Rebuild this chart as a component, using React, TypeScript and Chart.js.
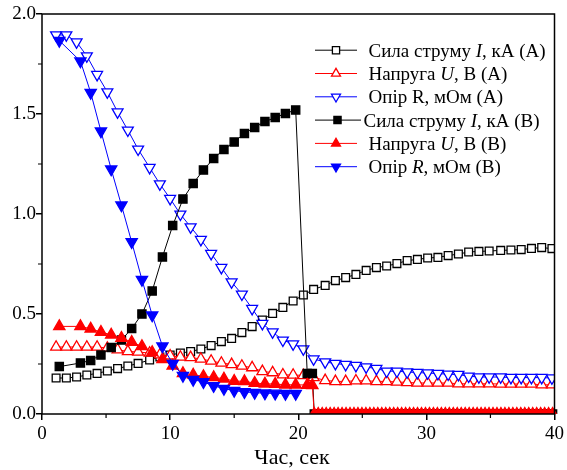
import React, { useEffect, useRef } from 'react';
import { Chart, registerables } from 'chart.js';

Chart.register(...registerables);

const FONT = '"Liberation Serif", "Times New Roman", serif';

// Sample A (open markers): time, current, voltage, resistance
const tA = [1.1, 1.9, 2.7, 3.5, 4.3, 5.1, 5.9, 6.7, 7.5, 8.4, 9.2, 10.0, 10.8, 11.6, 12.4, 13.2, 14.0, 14.8, 15.6, 16.4, 17.2, 18.0, 18.8, 19.6, 20.4, 21.2, 22.1, 22.9, 23.7, 24.5, 25.3, 26.1, 26.9, 27.7, 28.5, 29.3, 30.1, 30.9, 31.7, 32.5, 33.3, 34.1, 34.9, 35.8, 36.6, 37.4, 38.2, 39.0, 39.8];
const iA = [0.18, 0.18, 0.185, 0.195, 0.203, 0.215, 0.227, 0.24, 0.253, 0.27, 0.285, 0.295, 0.305, 0.312, 0.325, 0.342, 0.362, 0.378, 0.407, 0.437, 0.47, 0.503, 0.533, 0.565, 0.595, 0.623, 0.643, 0.667, 0.682, 0.698, 0.718, 0.732, 0.74, 0.752, 0.767, 0.773, 0.78, 0.783, 0.792, 0.8, 0.81, 0.813, 0.815, 0.818, 0.82, 0.822, 0.828, 0.832, 0.827];
const uA = [0.335, 0.335, 0.335, 0.335, 0.335, 0.33, 0.321, 0.313, 0.31, 0.305, 0.296, 0.291, 0.285, 0.283, 0.275, 0.265, 0.255, 0.248, 0.24, 0.232, 0.213, 0.207, 0.196, 0.195, 0.193, 0.183, 0.168, 0.163, 0.163, 0.166, 0.166, 0.163, 0.163, 0.16, 0.158, 0.155, 0.155, 0.155, 0.155, 0.151, 0.151, 0.151, 0.151, 0.15, 0.15, 0.15, 0.15, 0.146, 0.146];
const rA = [1.895, 1.895, 1.86, 1.79, 1.697, 1.61, 1.51, 1.419, 1.324, 1.232, 1.15, 1.077, 0.999, 0.935, 0.872, 0.802, 0.732, 0.66, 0.599, 0.527, 0.452, 0.41, 0.369, 0.35, 0.325, 0.275, 0.26, 0.252, 0.247, 0.242, 0.235, 0.227, 0.214, 0.214, 0.21, 0.207, 0.205, 0.202, 0.199, 0.197, 0.189, 0.185, 0.185, 0.185, 0.182, 0.182, 0.182, 0.182, 0.18];

// Sample B (filled markers)
const tB = [1.35, 3.0, 3.8, 4.6, 5.4, 6.2, 7.0, 7.8, 8.6, 9.4, 10.2, 11.0, 11.8, 12.6, 13.4, 14.2, 15.0, 15.8, 16.6, 17.4, 18.2, 19.0, 19.8, 20.7, 21.1];
const iB = [0.237, 0.255, 0.268, 0.295, 0.332, 0.37, 0.427, 0.5, 0.615, 0.785, 0.942, 1.075, 1.153, 1.22, 1.278, 1.323, 1.36, 1.403, 1.433, 1.462, 1.482, 1.503, 1.52, 0.203, 0.203];
const uB = [0.438, 0.438, 0.426, 0.41, 0.396, 0.38, 0.36, 0.338, 0.308, 0.273, 0.241, 0.203, 0.196, 0.188, 0.183, 0.176, 0.165, 0.163, 0.155, 0.151, 0.15, 0.146, 0.146, 0.145, 0.143];
const rB = [1.867, 1.764, 1.607, 1.414, 1.224, 1.044, 0.86, 0.672, 0.494, 0.339, 0.252, 0.192, 0.172, 0.16, 0.141, 0.127, 0.117, 0.11, 0.107, 0.104, 0.103, 0.102, 0.102];

// Sample B after breakdown (zero readings)
const tTail = [21.25, 21.56, 21.87, 22.18, 22.49, 22.8, 23.11, 23.42, 23.73, 24.04, 24.35, 24.66, 24.97, 25.28, 25.59, 25.9, 26.21, 26.52, 26.83, 27.14, 27.45, 27.76, 28.07, 28.38, 28.69, 29.0, 29.31, 29.62, 29.93, 30.24, 30.55, 30.86, 31.17, 31.48, 31.79, 32.1, 32.41, 32.72, 33.03, 33.34, 33.65, 33.96, 34.27, 34.58, 34.89, 35.2, 35.51, 35.82, 36.13, 36.44, 36.75, 37.06, 37.37, 37.68, 37.99, 38.3, 38.61, 38.92, 39.23, 39.54, 39.85];
const iTail = [0, 0, 0, 0, 0, 0, 0, 0, 0, 0, 0, 0, 0, 0, 0, 0, 0, 0, 0, 0, 0, 0, 0, 0, 0, 0, 0, 0, 0, 0, 0, 0, 0, 0, 0, 0, 0, 0, 0, 0, 0, 0, 0, 0, 0, 0, 0, 0, 0, 0, 0, 0, 0, 0, 0, 0, 0, 0, 0, 0, 0];
const uTail = [0, 0, 0, 0, 0, 0, 0, 0, 0, 0, 0, 0, 0, 0, 0, 0, 0, 0, 0, 0, 0, 0, 0, 0, 0, 0, 0, 0, 0, 0, 0, 0, 0, 0, 0, 0, 0, 0, 0, 0, 0, 0, 0, 0, 0, 0, 0, 0, 0, 0, 0, 0, 0, 0, 0, 0, 0, 0, 0, 0, 0];

const xMinorTicks = [5, 15, 25, 35];
const yMinorTicks = [0.25, 0.75, 1.25, 1.75];
const xTitle = 'Час, сек';

type Part = [string, boolean];
const legendLabels: Part[][] = [
  [['Сила струму ', false], ['I', true], [', кА (A)', false]],
  [['Напруга ', false], ['U', true], [', В (A)', false]],
  [['Опір R, мОм (A)', false]],
  [['Сила струму ', false], ['I', true], [', кА (B)', false]],
  [['Напруга ', false], ['U', true], [', В (B)', false]],
  [['Опір ', false], ['R', true], [', мОм (B)', false]],
];
const legendMarkers = [
  { color: '#000000', shape: 'square', filled: false },
  { color: '#ff0000', shape: 'up', filled: false },
  { color: '#0000ff', shape: 'down', filled: false },
  { color: '#000000', shape: 'square', filled: true },
  { color: '#ff0000', shape: 'up', filled: true },
  { color: '#0000ff', shape: 'down', filled: true },
];

const zip = (xs: number[], ys: number[]) => ys.map((y, i) => ({ x: xs[i], y }));

function drawMarker(ctx: CanvasRenderingContext2D, x: number, y: number, shape: string, color: string, filled: boolean) {
  ctx.save();
  ctx.beginPath();
  if (shape === 'square') {
    const h = 3.6;
    ctx.rect(x - h, y - h, 2 * h, 2 * h);
  } else {
    const r = 5.2;
    const s = shape === 'up' ? 1 : -1;
    ctx.moveTo(x, y - s * r);
    ctx.lineTo(x + r * 0.866, y + s * r * 0.5);
    ctx.lineTo(x - r * 0.866, y + s * r * 0.5);
    ctx.closePath();
  }
  ctx.fillStyle = filled ? color : '#ffffff';
  ctx.fill();
  ctx.lineWidth = 1.3;
  ctx.strokeStyle = color;
  ctx.stroke();
  ctx.restore();
}

const decorPlugin = {
  id: 'decor',
  afterDraw(chart: any) {
    const ctx: CanvasRenderingContext2D = chart.ctx;
    const { left, right, top, bottom } = chart.chartArea;
    const xs = chart.scales.x;
    const ys = chart.scales.y;
    ctx.save();
    // frame
    ctx.strokeStyle = '#000';
    ctx.lineWidth = 1.5;
    ctx.strokeRect(left, top, right - left, bottom - top);
    // minor ticks
    ctx.lineWidth = 1.2;
    ctx.beginPath();
    xMinorTicks.forEach((v) => {
      const px = xs.getPixelForValue(v);
      ctx.moveTo(px, bottom);
      ctx.lineTo(px, bottom + 4);
    });
    yMinorTicks.forEach((v) => {
      const py = ys.getPixelForValue(v);
      ctx.moveTo(left, py);
      ctx.lineTo(left - 4, py);
    });
    ctx.stroke();

    // axis title
    ctx.fillStyle = '#000';
    ctx.font = `22px ${FONT}`;
    ctx.textAlign = 'center';
    ctx.textBaseline = 'alphabetic';
    ctx.fillText(xTitle, 292, 464);

    // legend
    ctx.textAlign = 'left';
    legendLabels.forEach((parts, i) => {
      const base = 56.7 + 23.3 * i;
      const cy = base - 6.5;
      const m = legendMarkers[i];
      const lineEnd = i === 3 ? 361 : 357;
      ctx.beginPath();
      ctx.strokeStyle = m.color;
      ctx.lineWidth = 1;
      ctx.moveTo(315, cy);
      ctx.lineTo(lineEnd, cy);
      ctx.stroke();
      drawMarker(ctx, i === 3 ? 337.5 : 336, cy, m.shape, m.color, m.filled);
      let x = i === 3 ? 363.5 : 368.5;
      ctx.fillStyle = '#000';
      parts.forEach(([txt, it]) => {
        ctx.font = `${it ? 'italic ' : ''}19px ${FONT}`;
        ctx.fillText(txt, x, base);
        x += ctx.measureText(txt).width;
      });
    });
    ctx.restore();
  },
};

export default function App() {
  const ref = useRef<HTMLCanvasElement | null>(null);
  useEffect(() => {
    if (!ref.current) return;
    const common = { borderWidth: 1, tension: 0, pointBorderWidth: 1.3, pointHoverRadius: 0 };
    const chart = new Chart(ref.current, {
      type: 'line',
      data: {
        datasets: [
          { ...common, order: 0, data: zip(tA, iA), borderColor: '#000', pointStyle: 'rect', pointRadius: 5.5, pointBackgroundColor: '#fff', pointBorderColor: '#000' },
          { ...common, order: -1, data: zip(tA, uA), borderColor: '#ff0000', pointStyle: 'triangle', pointRadius: 6.3, pointBackgroundColor: '#fff', pointBorderColor: '#ff0000' },
          { ...common, order: -2, data: zip(tA, rA), borderColor: '#0000ff', pointStyle: 'triangle', pointRotation: 180, pointRadius: 6.3, pointBackgroundColor: '#fff', pointBorderColor: '#0000ff' },
          { ...common, order: -3, data: [...zip(tB, iB), ...zip(tTail, iTail)], borderColor: '#000', pointStyle: 'rect', pointRadius: 5.8, pointBackgroundColor: '#000', pointBorderColor: '#000', clip: { left: 20, right: 20, top: 20, bottom: 0 } },
          { ...common, order: -4, data: [...zip(tB, uB), ...zip(tTail, uTail)], borderColor: '#ff0000', pointStyle: 'triangle', pointRadius: 6.5, pointBackgroundColor: '#ff0000', pointBorderColor: '#ff0000', clip: { left: 20, right: 20, top: 20, bottom: 0 } },
          { ...common, order: -5, data: zip(tB, rB), borderColor: '#0000ff', pointStyle: 'triangle', pointRotation: 180, pointRadius: 6.5, pointBackgroundColor: '#0000ff', pointBorderColor: '#0000ff' },
        ],
      },
      options: {
        responsive: false,
        animation: false,
        events: [],
        layout: { padding: { top: 14, right: 11, left: 0, bottom: 0 } },
        plugins: { legend: { display: false }, tooltip: { enabled: false } },
        scales: {
          x: {
            type: 'linear',
            min: 0,
            max: 40,
            ticks: { stepSize: 10, color: '#000', font: { family: FONT, size: 19 }, padding: 3, maxRotation: 0, autoSkip: false },
            grid: { display: true, drawOnChartArea: false, drawTicks: true, tickLength: 6, color: '#000', lineWidth: 1.5 },
            border: { display: false },
            afterFit: (s: any) => { s.height = 56; },
          },
          y: {
            type: 'linear',
            min: 0,
            max: 2,
            ticks: { stepSize: 0.5, color: '#000', font: { family: FONT, size: 19 }, padding: 0, callback: (v: any) => Number(v).toFixed(1) },
            grid: { display: true, drawOnChartArea: false, drawTicks: true, tickLength: 6, color: '#000', lineWidth: 1.5 },
            border: { display: false },
            afterFit: (s: any) => { s.width = 42; },
          },
        },
      } as any,
      plugins: [decorPlugin],
    });
    return () => chart.destroy();
  }, []);
  return (
    <div style={{ position: 'absolute', left: 0, top: 0, width: 567, height: 470, background: '#fff' }}>
      <canvas ref={ref} width={567} height={470} style={{ display: 'block' }} />
    </div>
  );
}
